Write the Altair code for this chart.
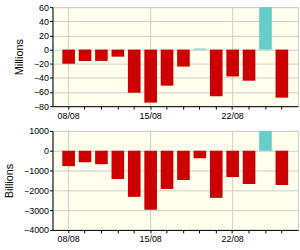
import altair as alt
import pandas as pd

dates = ["08/08", "11/08", "12/08", "13/08", "14/08", "15/08", "18/08",
         "19/08", "20/08", "21/08", "22/08", "25/08", "26/08", "27/08"]
millions = [-20, -16, -16, -10, -61, -75, -51, -24, 1.5, -66, -38, -44, 60, -68]
billions = [-780, -580, -680, -1430, -2330, -2980, -1930, -1480, -380, -2380,
            -1330, -1680, 1000, -1730]
labeled = ["08/08", "15/08", "22/08"]

df = pd.DataFrame({"date": dates, "millions": millions, "billions": billions})
grid_df = pd.DataFrame({"date": labeled})

label_expr = " || ".join([f"datum.value == '{d}'" for d in labeled])
label_expr = f"({label_expr}) ? datum.value : ''"


def panel(field, title, dom, ticks):
    xscale = alt.Scale(domain=dates, paddingInner=0.23, paddingOuter=0.6)
    xaxis = alt.Axis(labelAngle=0, labelExpr=label_expr, grid=False,
                     labelOverlap=False, labelPadding=2)
    vgrid = alt.Chart(grid_df).mark_rule(color="#cccccc", strokeWidth=1).encode(
        x=alt.X("date:O", scale=xscale, sort=dates, title=None, axis=xaxis)
    )
    bars = alt.Chart(df).mark_bar().encode(
        x=alt.X("date:O", scale=xscale, sort=dates, title=None, axis=xaxis),
        y=alt.Y(f"{field}:Q", scale=alt.Scale(domain=dom, nice=False, zero=True),
                axis=alt.Axis(values=ticks, format="d", title=title, grid=True,
                              gridColor="#cccccc")),
        color=alt.condition(f"datum.{field} > 0", alt.value("#66CCCC"),
                            alt.value("#CC0000")),
    )
    return alt.layer(vgrid, bars).properties(width=248, height=100)


top = panel("millions", "Millions", [-80, 60], [-80, -60, -40, -20, 0, 20, 40, 60])
bottom = panel("billions", "Billions", [-4000, 1000],
               [-4000, -3000, -2000, -1000, 0, 1000])

chart = alt.vconcat(top, bottom, spacing=5).properties(
    padding={"left": 3, "top": 1, "right": 1, "bottom": 0}
).configure_view(
    fill="#FFFFEE", stroke="#cccccc"
).configure_axis(
    domainColor="#000000", tickColor="#000000", tickSize=3,
    labelFont="Liberation Sans", labelFontSize=9, labelColor="#000000",
    titleFont="Liberation Sans", titleFontSize=11, titleFontWeight="normal",
    titleColor="#000000", labelPadding=1, titlePadding=9
)

chart.save("out.html", embed_options={"renderer": "svg", "actions": False})
